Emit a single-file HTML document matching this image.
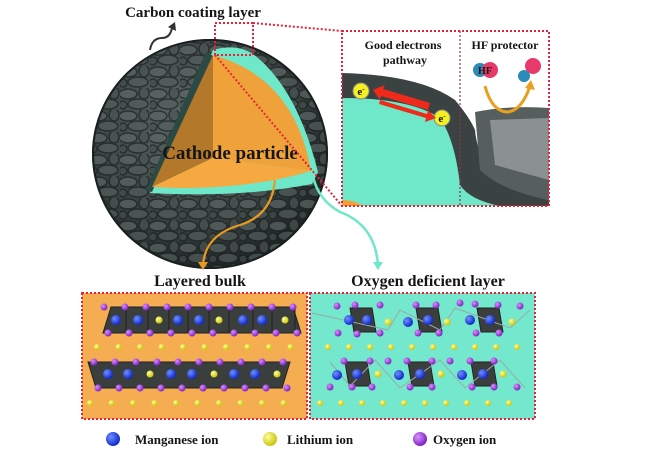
<!DOCTYPE html>
<html><head><meta charset="utf-8"><style>
html,body{margin:0;padding:0;background:#fff;}
svg{display:block;}
text{font-family:"Liberation Serif",serif;font-weight:bold;fill:#151515;}
</style></head><body>
<svg width="650" height="455" viewBox="0 0 650 455" xmlns="http://www.w3.org/2000/svg">
<defs>
<radialGradient id="sph" cx="0.4" cy="0.35" r="0.7">
<stop offset="0" stop-color="#5d6766"/><stop offset="0.7" stop-color="#353d3c"/><stop offset="1" stop-color="#1a201f"/></radialGradient>
<radialGradient id="mn" cx="0.35" cy="0.35" r="0.7"><stop offset="0" stop-color="#6f8fff"/><stop offset="1" stop-color="#0a22c8"/></radialGradient>
<radialGradient id="li" cx="0.35" cy="0.35" r="0.7"><stop offset="0" stop-color="#ffff9a"/><stop offset="1" stop-color="#c8c000"/></radialGradient>
<radialGradient id="ox" cx="0.35" cy="0.35" r="0.7"><stop offset="0" stop-color="#d890ff"/><stop offset="1" stop-color="#7a1cc0"/></radialGradient>
<pattern id="bumps" width="30" height="22" patternUnits="userSpaceOnUse">
<ellipse cx="8" cy="6" rx="9" ry="5" fill="#5a6564" stroke="#1c2322" stroke-width="1.5"/>
<ellipse cx="24" cy="5" rx="5" ry="6" fill="#4a5453" stroke="#1c2322" stroke-width="1.5"/>
<ellipse cx="18" cy="16" rx="10" ry="5" fill="#525d5c" stroke="#1c2322" stroke-width="1.5"/>
<ellipse cx="3" cy="17" rx="4" ry="4" fill="#444e4d" stroke="#1c2322" stroke-width="1.5"/>
</pattern>
</defs>

<!-- Sphere -->
<ellipse cx="210" cy="154" rx="118" ry="115" fill="url(#sph)"/>
<ellipse cx="210" cy="154" rx="116" ry="113" fill="url(#bumps)" opacity="0.7"/>
<ellipse cx="210" cy="154" rx="117" ry="114" fill="none" stroke="#1a201f" stroke-width="2"/>
<!-- teal rim -->
<path d="M213 50 Q240 42 258 58 Q298 92 318 172 L312 184 Q240 198 150 193 L213 50Z" fill="#6ee8c8"/>
<path d="M206 52 L146 190 L152 192 L213 56Z" fill="#2c4a44"/>
<!-- wedge faces -->
<path d="M213 55 L213 158 L152 187Z" fill="#b3782a"/>
<path d="M213 55 Q295 78 311 171 L213 158Z" fill="#f0a23a"/>
<path d="M213 158 L311 171 Q240 192 152 187Z" fill="#f5a940"/>
<text x="230" y="159" font-size="19" text-anchor="middle">Cathode particle</text>

<!-- carbon arrow -->
<path d="M150 50 Q152 38 162 38 Q170 38 172 28" fill="none" stroke="#333" stroke-width="2"/>
<path d="M168 27 L175 22 L176 31Z" fill="#333"/>
<text x="193" y="17" font-size="15" text-anchor="middle">Carbon coating layer</text>

<!-- zoom box and lines -->
<rect x="215" y="23" width="38" height="32" fill="none" stroke="#e8203a" stroke-width="2" stroke-dasharray="2,2"/>
<path d="M253 23 L342 31 M215 55 L342 206" stroke="#e8203a" stroke-width="2" stroke-dasharray="2,2" fill="none"/>

<!-- Inset -->
<rect x="342" y="31" width="207" height="175" fill="#fff"/>
<path d="M342 73 Q420 75 455 100 Q470 118 475 130 Q480 185 549 200 L549 206 L342 206Z" fill="#3b4342"/>
<path d="M342 98 Q410 98 440 118 Q455 140 460 185 Q470 200 500 206 L342 206Z" fill="#6ee8c8"/>
<path d="M342 200 Q355 200 362 206 L342 206Z" fill="#f0a23a"/>
<path d="M475 112 Q510 105 549 108 L549 200 Q500 190 480 170Z" fill="#575f5e"/>
<path d="M490 120 L549 118 L549 180 L495 165Z" fill="#8a9190"/>
<circle cx="361" cy="91" r="8" fill="#f5f020" stroke="#888" stroke-width="1"/>
<text x="361" y="95" font-size="11" text-anchor="middle">e<tspan font-size="7" dy="-4">-</tspan></text>
<circle cx="442" cy="118" r="8" fill="#f5f020" stroke="#888" stroke-width="1"/>
<text x="442" y="122" font-size="11" text-anchor="middle">e<tspan font-size="7" dy="-4">-</tspan></text>
<path d="M383 89 L430 103 L428 110 L381 96 L380 100 L373 90 L385 85Z" fill="#f02a1a"/>
<path d="M380 100 L427 114 L428 110 L436 118 L425 122 L426 118 L379 104Z" fill="#f02a1a"/>
<circle cx="480" cy="70" r="7" fill="#2a8ab8"/><circle cx="490" cy="70" r="8" fill="#e83a6a"/>
<text x="485" y="74" font-size="10" text-anchor="middle">HF</text>
<circle cx="533" cy="66" r="8" fill="#e83a6a"/><circle cx="524" cy="76" r="6" fill="#2a8ab8"/>
<path d="M485 86 Q492 112 508 112 Q522 110 530 86" fill="none" stroke="#e8a020" stroke-width="3"/>
<path d="M525 88 L531 80 L535 90Z" fill="#e8a020"/>
<text x="403" y="49" font-size="12" text-anchor="middle">Good electrons</text>
<text x="405" y="64" font-size="12" text-anchor="middle">pathway</text>
<text x="505" y="49" font-size="12" text-anchor="middle">HF protector</text>
<rect x="342" y="31" width="207" height="175" fill="none" stroke="#e8203a" stroke-width="2" stroke-dasharray="2,2"/>
<line x1="460" y1="31" x2="460" y2="206" stroke="#8a3050" stroke-width="1.2" stroke-dasharray="2,2"/>

<!-- arrows to panels -->
<path d="M275 180 Q272 215 240 225 Q205 235 203 265" fill="none" stroke="#e89a20" stroke-width="2.2"/>
<path d="M198 262 L203 270 L208 262Z" fill="#e89a20"/>
<path d="M313 176 Q318 200 340 212 Q375 225 378 265" fill="none" stroke="#6ee8c8" stroke-width="2.5"/>
<path d="M373 262 L378 270 L383 262Z" fill="#6ee8c8"/>
<text x="200" y="286" font-size="16" text-anchor="middle">Layered bulk</text>
<text x="428" y="286" font-size="16" text-anchor="middle">Oxygen deficient layer</text>

<!-- panels -->
<rect x="82" y="293" width="225" height="126" fill="#f4ad50" stroke="#e8203a" stroke-width="2" stroke-dasharray="2,2"/>
<rect x="310" y="293" width="225" height="126" fill="#74e8cc" stroke="#e8203a" stroke-width="2" stroke-dasharray="2,2"/>
<g id="lat"></g>

<!-- legend -->
<circle cx="113" cy="439" r="7" fill="url(#mn)"/>
<text x="135" y="444" font-size="13">Manganese ion</text>
<circle cx="270" cy="439" r="7" fill="url(#li)"/>
<text x="287" y="444" font-size="13">Lithium ion</text>
<circle cx="420" cy="439" r="7" fill="url(#ox)"/>
<text x="433" y="444" font-size="13">Oxygen ion</text>
</svg>
<script>
var g=document.getElementById('lat'),h='';
function c(x,y,r,t){h+='<circle cx="'+x+'" cy="'+y+'" r="'+r+'" fill="url(#'+t+')"/>';}
function slab(x0,x1,y,sk){h+='<path d="M'+(x0+sk)+' '+(y-13)+' L'+(x1)+' '+(y-13)+' L'+(x1+sk)+' '+(y+13)+' L'+x0+' '+(y+13)+'Z" fill="#3a3f3e" stroke="#222" stroke-width="1"/>';}
slab(103,293,320,8);
var xs=[116,138,159,178,199,219,243,262,285],ty=['mn','mn','li','mn','mn','li','mn','mn','li'];
for(var i=0;i<9;i++){h+='<line x1="'+(xs[i]+10)+'" y1="308" x2="'+(xs[i]+10)+'" y2="332" stroke="#222"/>';}
for(var i=0;i<10;i++){c(104+i*21,307,3.5,'ox');c(108+i*21,333,3.5,'ox');}
for(var i=0;i<9;i++)c(xs[i],320,ty[i]=='mn'?5:3.5,ty[i]);
for(var i=0;i<10;i++)c(97+i*21.5,347,3,'li');
slab(96,290,375,-8);
var xs2=[108,128,150,171,192,214,234,255,277];
for(var i=0;i<10;i++){c(94+i*21,362,3.5,'ox');c(98+i*21,388,3.5,'ox');}
for(var i=0;i<9;i++)c(xs2[i],374,ty[i]=='mn'?5:3.5,ty[i]);
for(var i=0;i<10;i++)c(90+i*21.5,403,3,'li');
function oct(x,y){h+='<path d="M'+(x-12)+' '+(y-12)+' L'+(x+10)+' '+(y-12)+' L'+(x+14)+' '+(y+12)+' L'+(x-8)+' '+(y+12)+'Z" fill="#3a3f3e" stroke="#222"/>';}
oct(362,320);oct(428,320);oct(489,320);
h+='<path d="M312 313 L388 330 L400 310 L440 330 L455 308 L510 328 L530 310" fill="none" stroke="#9aa" stroke-width="1"/>';
[[349,320,'mn'],[367,320,'mn'],[408,322,'mn'],[428,320,'mn'],[470,320,'mn'],[490,320,'mn'],[388,322,'li'],[447,322,'li'],[512,322,'li']].forEach(function(a){c(a[0],a[1],a[2]=='mn'?5:3.5,a[2]);});
[[337,306],[355,305],[380,305],[338,333],[357,334],[380,333],[416,305],[436,305],[460,303],[418,333],[439,333],[475,304],[498,305],[520,306],[476,333],[499,333]].forEach(function(a){c(a[0],a[1],3.5,'ox');});
for(var i=0;i<10;i++)c(328+i*21,347,3,'li');
oct(357,374);oct(420,374);oct(483,374);
h+='<path d="M330 362 L350 386 L375 360 L400 388 L440 360 L465 388 L500 360 L525 388" fill="none" stroke="#9aa" stroke-width="1"/>';
[[337,375,'mn'],[357,374,'mn'],[399,375,'mn'],[420,374,'mn'],[462,375,'mn'],[483,374,'mn'],[378,374,'li'],[441,374,'li'],[503,374,'li']].forEach(function(a){c(a[0],a[1],a[2]=='mn'?5:3.5,a[2]);});
[[344,361],[370,361],[388,361],[407,361],[432,361],[450,361],[470,361],[494,361],[330,387],[352,387],[372,387],[410,387],[432,387],[472,387],[494,387],[517,387]].forEach(function(a){c(a[0],a[1],3.5,'ox');});
for(var i=0;i<10;i++)c(320+i*21,403,3,'li');
g.innerHTML=h;
</script>
</body></html>
